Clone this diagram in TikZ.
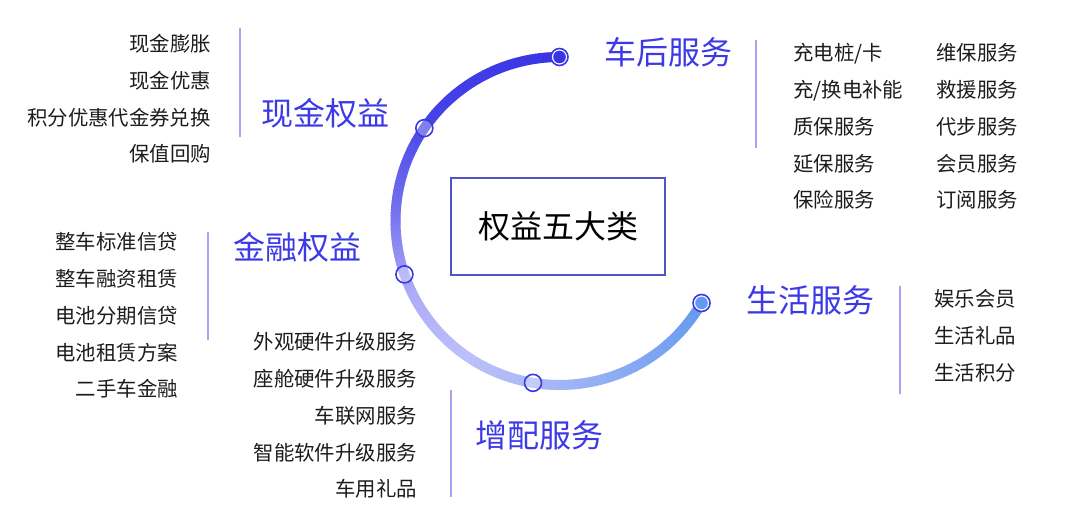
\documentclass[tikz,border=0pt]{standalone}
\usepackage{fontspec}
\setmainfont{Noto Sans CJK SC}
\definecolor{txt}{HTML}{1C1C1C}
\definecolor{ttlc}{HTML}{3C3AE6}
\definecolor{sepc}{HTML}{A4A4F2}
\definecolor{mkc}{HTML}{3A38E0}
\definecolor{boxc}{HTML}{5553C8}
\definecolor{a1}{HTML}{3934E4}
\definecolor{a2}{HTML}{4642E8}
\definecolor{a3}{HTML}{7370EF}
\definecolor{a4}{HTML}{ADABF7}
\definecolor{a5}{HTML}{BEC0FA}
\definecolor{a6}{HTML}{A6B7F6}
\definecolor{a7}{HTML}{6399EF}
\begin{document}
\begin{tikzpicture}[x=1pt,y=-1pt,
  item/.style={inner sep=0pt, text=txt, font=\fontsize{20.4}{24}\selectfont, text height=18pt, text depth=2.4pt},
  ttl/.style={inner sep=0pt, text=ttlc, font=\fontsize{32}{38}\selectfont, text height=28.2pt, text depth=3.8pt},
  sep/.style={draw=sepc, line width=1.8pt},
  mk/.style={draw=mkc, line width=1.6pt, circle, minimum size=17pt, inner sep=0pt},
  arcseg/.style={line width=10pt}]
\useasboundingbox (0,0) rectangle (1080,519);
% gradient arc
\foreach \s/\e/\cs/\ce in {90/140/a1/a2,140/175/a2/a3,175/205/a3/a4,205/235/a4/a5,235/265/a5/a6,265/330/a6/a7}{
  \pgfmathtruncatemacro\ee{\e-1}
  \foreach \a in {\s,...,\ee}{
    \pgfmathtruncatemacro\p{100*(\a-\s)/(\e-\s)}
    \draw[arcseg, color=\ce!\p!\cs] ({559.5+164*cos(\a)},{221-164*sin(\a)}) -- ({559.5+164*cos(\a+1.3)},{221-164*sin(\a+1.3)});
  }
}
% markers
\node[mk, fill=white] (m1) at ({559.5+164*cos(90)},{221-164*sin(90)}) {};
\fill[a1] (m1) circle (6.3pt);
\node[mk, fill=white, fill opacity=0.3] (m2) at ({559.5+164*cos(145.5)},{221-164*sin(145.5)}) {};
\node[mk, fill=white, fill opacity=0.3] (m3) at ({559.5+164*cos(199)},{221-164*sin(199)}) {};
\node[mk, fill=white, fill opacity=0.3] (m4) at ({559.5+164*cos(260.7)},{221-164*sin(260.7)}) {};
\node[mk, fill=white] (m5) at ({559.5+164*cos(330)},{221-164*sin(330)}) {};
\fill[a7] (m5) circle (6.3pt);
% center box
\node[draw=boxc, line width=1.3pt, minimum width=214pt, minimum height=97pt, inner sep=0pt, text=black, font=\fontsize{32}{38}\selectfont] (center) at (558,226.5) {权益五大类};
% titles
\node[ttl, anchor=west] (t1) at (261,113) {现金权益};
\node[ttl, anchor=west] (t2) at (233,247) {金融权益};
\node[ttl, anchor=west] (t3) at (475,435) {增配服务};
\node[ttl, anchor=west] (t4) at (604,52) {车后服务};
\node[ttl, anchor=west] (t5) at (746,300) {生活服务};
% separators
\coordinate (s1a) at (240,28); \coordinate (s1b) at (240,137);
\coordinate (s2a) at (208,232); \coordinate (s2b) at (208,340);
\coordinate (s3a) at (451,390); \coordinate (s3b) at (451,497);
\coordinate (s4a) at (756,40); \coordinate (s4b) at (756,148);
\coordinate (s5a) at (900,286); \coordinate (s5b) at (900,394);
\draw[sep] (s1a) -- (s1b);
\draw[sep] (s2a) -- (s2b);
\draw[sep] (s3a) -- (s3b);
\draw[sep] (s4a) -- (s4b);
\draw[sep] (s5a) -- (s5b);
% items
\foreach \t [count=\i] in {现金膨胀,现金优惠,积分优惠代金券兑换,保值回购}
  \node[item, anchor=east] (g1-\i) at (211,{44+36.7*(\i-1)}) {\t};
\foreach \t [count=\i] in {整车标准信贷,整车融资租赁,电池分期信贷,电池租赁方案,二手车金融}
  \node[item, anchor=east] (g2-\i) at (178,{242+36.75*(\i-1)}) {\t};
\foreach \t [count=\i] in {外观硬件升级服务,座舱硬件升级服务,车联网服务,智能软件升级服务,车用礼品}
  \node[item, anchor=east] (g3-\i) at (417,{342+36.75*(\i-1)}) {\t};
\foreach \t [count=\i] in {充电桩/卡,充/换电补能,质保服务,延保服务,保险服务}
  \node[item, anchor=west] (g4a-\i) at (793,{53+36.75*(\i-1)}) {\t};
\foreach \t [count=\i] in {维保服务,救援服务,代步服务,会员服务,订阅服务}
  \node[item, anchor=west] (g4b-\i) at (936,{53+36.75*(\i-1)}) {\t};
\foreach \t [count=\i] in {娱乐会员,生活礼品,生活积分}
  \node[item, anchor=west] (g5-\i) at (934,{299+37*(\i-1)}) {\t};
\end{tikzpicture}
\end{document}
